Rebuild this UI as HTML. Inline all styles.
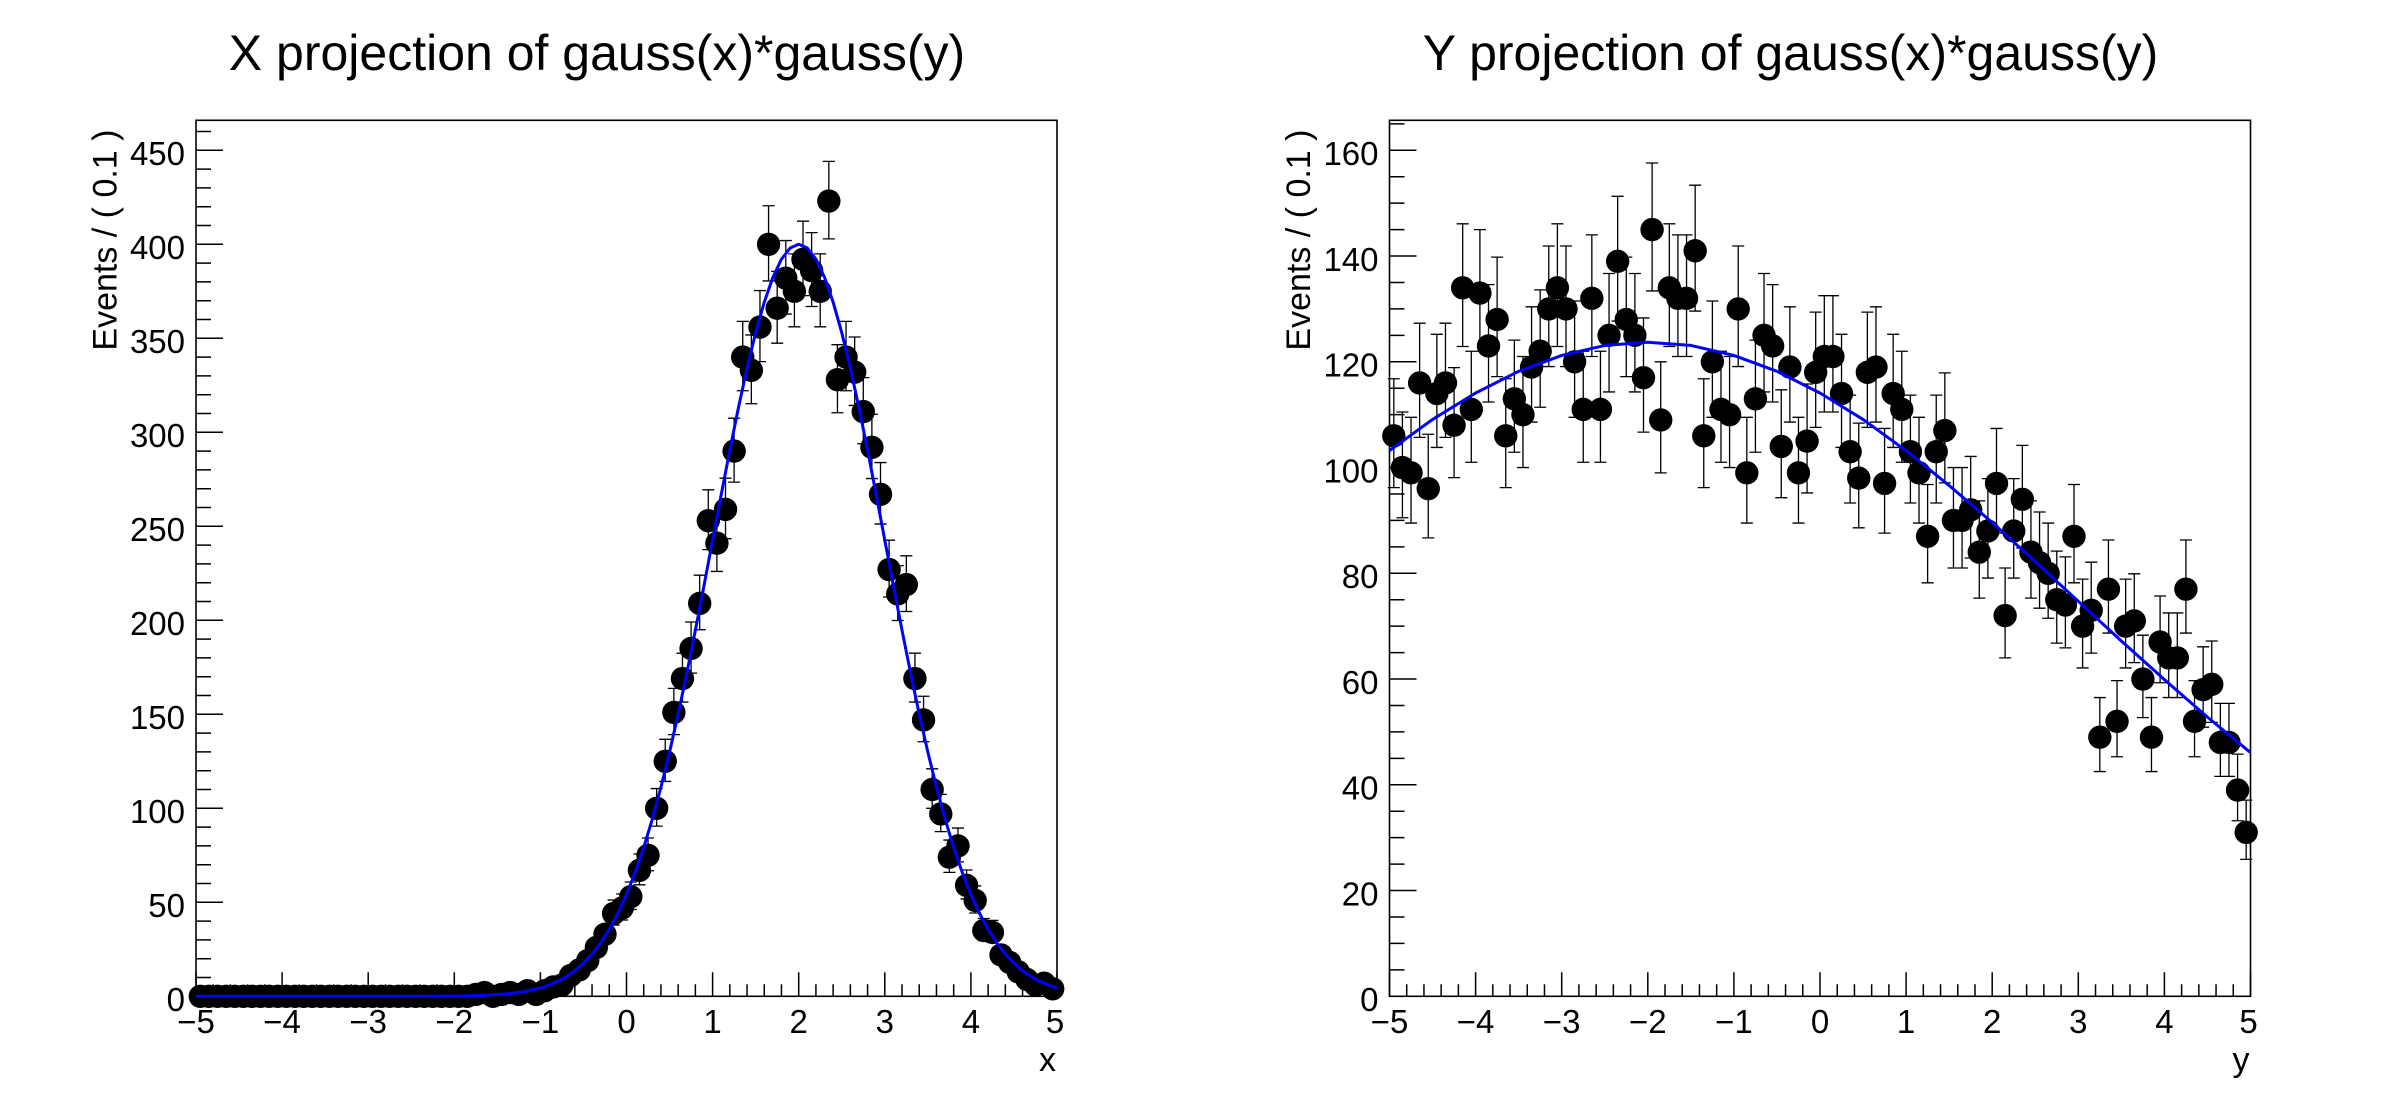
<!DOCTYPE html>
<html><head><meta charset="utf-8">
<style>
html,body{margin:0;padding:0;background:#fff;}
svg{display:block}
text{font-family:"Liberation Sans",Arial,sans-serif;fill:#000}
</style></head>
<body>
<svg width="2388" height="1116" viewBox="0 0 2388 1116" xmlns="http://www.w3.org/2000/svg">
<rect width="2388" height="1116" fill="#fff"/>
<defs>
<ellipse id="mL" cx="0" cy="0" rx="0.1359" ry="6.223"/>
<ellipse id="mR" cx="0" cy="0" rx="0.1359" ry="2.213"/>
</defs>

<text x="597" y="70" font-size="50" text-anchor="middle">X projection of gauss(x)*gauss(y)</text>
<text x="1790.5" y="70" font-size="50" text-anchor="middle">Y projection of gauss(x)*gauss(y)</text>

<rect x="196" y="120.3" width="861" height="876" fill="none" stroke="#000" stroke-width="1.6"/>
<rect x="1389.5" y="120.3" width="861" height="876" fill="none" stroke="#000" stroke-width="1.6"/>

<g transform="matrix(1,0,0,-1.88,196,996.3)" stroke="#000" fill="none">
<path vector-effect="non-scaling-stroke" stroke-width="1.5" d="M0,0h27M0,50h27M0,100h27M0,150h27M0,200h27M0,250h27M0,300h27M0,350h27M0,400h27M0,450h27M0,10h15M0,20h15M0,30h15M0,40h15M0,60h15M0,70h15M0,80h15M0,90h15M0,110h15M0,120h15M0,130h15M0,140h15M0,160h15M0,170h15M0,180h15M0,190h15M0,210h15M0,220h15M0,230h15M0,240h15M0,260h15M0,270h15M0,280h15M0,290h15M0,310h15M0,320h15M0,330h15M0,340h15M0,360h15M0,370h15M0,380h15M0,390h15M0,410h15M0,420h15M0,430h15M0,440h15M0,460h15"/>
</g>
<g transform="matrix(1,0,0,-5.2875,1389.5,996.3)" stroke="#000" fill="none">
<path vector-effect="non-scaling-stroke" stroke-width="1.5" d="M0,0h27M0,20h27M0,40h27M0,60h27M0,80h27M0,100h27M0,120h27M0,140h27M0,160h27M0,5h15M0,10h15M0,15h15M0,25h15M0,30h15M0,35h15M0,45h15M0,50h15M0,55h15M0,65h15M0,70h15M0,75h15M0,85h15M0,90h15M0,95h15M0,105h15M0,110h15M0,115h15M0,125h15M0,130h15M0,135h15M0,145h15M0,150h15M0,155h15M0,165h15"/>
</g>
<g transform="matrix(86.1,0,0,1,626.5,996.3)" stroke="#000" fill="none">
<path id="xt" vector-effect="non-scaling-stroke" stroke-width="1.5" d="M-5,0v-24M-4,0v-24M-3,0v-24M-2,0v-24M-1,0v-24M0,0v-24M1,0v-24M2,0v-24M3,0v-24M4,0v-24M5,0v-24M-4.8,0v-12M-4.6,0v-12M-4.4,0v-12M-4.2,0v-12M-3.8,0v-12M-3.6,0v-12M-3.4,0v-12M-3.2,0v-12M-2.8,0v-12M-2.6,0v-12M-2.4,0v-12M-2.2,0v-12M-1.8,0v-12M-1.6,0v-12M-1.4,0v-12M-1.2,0v-12M-0.8,0v-12M-0.6,0v-12M-0.4,0v-12M-0.2,0v-12M0.2,0v-12M0.4,0v-12M0.6,0v-12M0.8,0v-12M1.2,0v-12M1.4,0v-12M1.6,0v-12M1.8,0v-12M2.2,0v-12M2.4,0v-12M2.6,0v-12M2.8,0v-12M3.2,0v-12M3.4,0v-12M3.6,0v-12M3.8,0v-12M4.2,0v-12M4.4,0v-12M4.6,0v-12M4.8,0v-12"/>
</g>
<g transform="matrix(86.1,0,0,1,1820,996.3)" stroke="#000" fill="none">
<path vector-effect="non-scaling-stroke" stroke-width="1.5" d="M-5,0v-24M-4,0v-24M-3,0v-24M-2,0v-24M-1,0v-24M0,0v-24M1,0v-24M2,0v-24M3,0v-24M4,0v-24M5,0v-24M-4.8,0v-12M-4.6,0v-12M-4.4,0v-12M-4.2,0v-12M-3.8,0v-12M-3.6,0v-12M-3.4,0v-12M-3.2,0v-12M-2.8,0v-12M-2.6,0v-12M-2.4,0v-12M-2.2,0v-12M-1.8,0v-12M-1.6,0v-12M-1.4,0v-12M-1.2,0v-12M-0.8,0v-12M-0.6,0v-12M-0.4,0v-12M-0.2,0v-12M0.2,0v-12M0.4,0v-12M0.6,0v-12M0.8,0v-12M1.2,0v-12M1.4,0v-12M1.6,0v-12M1.8,0v-12M2.2,0v-12M2.4,0v-12M2.6,0v-12M2.8,0v-12M3.2,0v-12M3.4,0v-12M3.6,0v-12M3.8,0v-12M4.2,0v-12M4.4,0v-12M4.6,0v-12M4.8,0v-12"/>
</g>

<g font-size="33" text-anchor="end">
<text x="185" y="1011">0</text><text x="185" y="917">50</text><text x="185" y="823">100</text><text x="185" y="729">150</text><text x="185" y="635">200</text><text x="185" y="541">250</text><text x="185" y="447">300</text><text x="185" y="353">350</text><text x="185" y="259">400</text><text x="185" y="165">450</text>
<text x="1378.5" y="1011">0</text><text x="1378.5" y="905.3">20</text><text x="1378.5" y="799.5">40</text><text x="1378.5" y="693.8">60</text><text x="1378.5" y="588">80</text><text x="1378.5" y="482.3">100</text><text x="1378.5" y="376.5">120</text><text x="1378.5" y="270.8">140</text><text x="1378.5" y="165">160</text>
</g>
<g font-size="33" text-anchor="middle">
<text x="196" y="1033">−5</text><text x="282.1" y="1033">−4</text><text x="368.2" y="1033">−3</text><text x="454.3" y="1033">−2</text><text x="540.4" y="1033">−1</text><text x="626.5" y="1033">0</text><text x="712.6" y="1033">1</text><text x="798.7" y="1033">2</text><text x="884.8" y="1033">3</text><text x="970.9" y="1033">4</text><text x="1055" y="1033">5</text>
<text x="1389.5" y="1033">−5</text><text x="1475.6" y="1033">−4</text><text x="1561.7" y="1033">−3</text><text x="1647.8" y="1033">−2</text><text x="1733.9" y="1033">−1</text><text x="1820" y="1033">0</text><text x="1906.1" y="1033">1</text><text x="1992.2" y="1033">2</text><text x="2078.3" y="1033">3</text><text x="2164.4" y="1033">4</text><text x="2248.5" y="1033">5</text>
</g>

<text x="1056" y="1071" font-size="34" text-anchor="end">x</text>
<text x="2249.5" y="1071" font-size="34" text-anchor="end">y</text>
<text transform="translate(116.7,129.5) rotate(-90)" font-size="34" text-anchor="end">Events / ( 0.1 )</text>
<text transform="translate(1310.2,129.5) rotate(-90)" font-size="34" text-anchor="end">Events / ( 0.1 )</text>

<g transform="matrix(86.1,0,0,-1.88,626.5,996.3)">
<path fill="none" stroke="#000" stroke-width="1.3" vector-effect="non-scaling-stroke" d="M-0.15,37.9V51.2m-.07,0h.14M-0.15,37.9m-.07,0h.14M-0.05,40.6V54.4m-.07,0h.14M-0.05,40.6m-.07,0h.14M0.05,46.2V60.8m-.07,0h.14M0.05,46.2m-.07,0h.14M0.15,59.3V75.7m-.07,0h.14M0.15,59.3m-.07,0h.14M0.25,66.8V84.2m-.07,0h.14M0.25,66.8m-.07,0h.14M0.35,90.5V110.5m-.07,0h.14M0.35,90.5m-.07,0h.14M0.45,114.3V136.7m-.07,0h.14M0.45,114.3m-.07,0h.14M0.55,139.2V163.8m-.07,0h.14M0.55,139.2m-.07,0h.14M0.65,156.5V182.5m-.07,0h.14M0.65,156.5m-.07,0h.14M0.75,171.9V199.1m-.07,0h.14M0.75,171.9m-.07,0h.14M0.85,195V224m-.07,0h.14M0.85,195m-.07,0h.14M0.95,237.6V269.4m-.07,0h.14M0.95,237.6m-.07,0h.14M1.05,226V257m-.07,0h.14M1.05,226m-.07,0h.14M1.15,243.4V275.6m-.07,0h.14M1.15,243.4m-.07,0h.14M1.25,273.5V307.5m-.07,0h.14M1.25,273.5m-.07,0h.14M1.35,322.1V359m-.07,0h.14M1.35,322.1m-.07,0h.14M1.45,315.2V351.8m-.07,0h.14M1.45,315.2m-.07,0h.14M1.55,337.6V375.4m-.07,0h.14M1.55,337.6m-.07,0h.14M1.65,380.5V420.5m-.07,0h.14M1.65,380.5m-.07,0h.14M1.75,347.4V385.6m-.07,0h.14M1.75,347.4m-.07,0h.14M1.85,362.9V402m-.07,0h.14M1.85,362.9m-.07,0h.14M1.95,356.1V394.9m-.07,0h.14M1.95,356.1m-.07,0h.14M2.05,372.7V412.3m-.07,0h.14M2.05,372.7m-.07,0h.14M2.15,366.9V406.2m-.07,0h.14M2.15,366.9m-.07,0h.14M2.25,356.1V394.9m-.07,0h.14M2.25,356.1m-.07,0h.14M2.35,402.9V444.1m-.07,0h.14M2.35,402.9m-.07,0h.14M2.45,310.4V346.6m-.07,0h.14M2.45,310.4m-.07,0h.14M2.55,322.1V359m-.07,0h.14M2.55,322.1m-.07,0h.14M2.65,314.3V350.7m-.07,0h.14M2.65,314.3m-.07,0h.14M2.75,293.9V329.1m-.07,0h.14M2.75,293.9m-.07,0h.14M2.85,275.4V309.6m-.07,0h.14M2.85,275.4m-.07,0h.14M2.95,251.2V283.9m-.07,0h.14M2.95,251.2m-.07,0h.14M3.05,212.4V242.6m-.07,0h.14M3.05,212.4m-.07,0h.14M3.15,199.9V229.1m-.07,0h.14M3.15,199.9m-.07,0h.14M3.25,204.7V234.3m-.07,0h.14M3.25,204.7m-.07,0h.14M3.35,156.5V182.5m-.07,0h.14M3.35,156.5m-.07,0h.14M3.45,135.4V159.6m-.07,0h.14M3.45,135.4m-.07,0h.14M3.55,100V121m-.07,0h.14M3.55,100m-.07,0h.14M3.65,87.6V107.4m-.07,0h.14M3.65,87.6m-.07,0h.14M3.75,65.9V83.1m-.07,0h.14M3.75,65.9m-.07,0h.14M3.85,71.5V89.5m-.07,0h.14M3.85,71.5m-.07,0h.14M3.95,51.8V67.2m-.07,0h.14M3.95,51.8m-.07,0h.14M4.05,44.3V58.7m-.07,0h.14M4.05,44.3m-.07,0h.14M4.15,29.6V41.4m-.07,0h.14M4.15,29.6m-.07,0h.14M4.25,28.7V40.4m-.07,0h.14M4.25,28.7m-.07,0h.14"/>
<g fill="#000">
<use href="#mL" x="-4.95" y="0"/><use href="#mL" x="-4.85" y="0"/><use href="#mL" x="-4.75" y="0"/><use href="#mL" x="-4.65" y="0"/><use href="#mL" x="-4.55" y="0"/><use href="#mL" x="-4.45" y="0"/><use href="#mL" x="-4.35" y="0"/><use href="#mL" x="-4.25" y="0"/><use href="#mL" x="-4.15" y="0"/><use href="#mL" x="-4.05" y="0"/>
<use href="#mL" x="-3.95" y="0"/><use href="#mL" x="-3.85" y="0"/><use href="#mL" x="-3.75" y="0"/><use href="#mL" x="-3.65" y="0"/><use href="#mL" x="-3.55" y="0"/><use href="#mL" x="-3.45" y="0"/><use href="#mL" x="-3.35" y="0"/><use href="#mL" x="-3.25" y="0"/><use href="#mL" x="-3.15" y="0"/><use href="#mL" x="-3.05" y="0"/>
<use href="#mL" x="-2.95" y="0"/><use href="#mL" x="-2.85" y="0"/><use href="#mL" x="-2.75" y="0"/><use href="#mL" x="-2.65" y="0"/><use href="#mL" x="-2.55" y="0"/><use href="#mL" x="-2.45" y="0"/><use href="#mL" x="-2.35" y="0"/><use href="#mL" x="-2.25" y="0"/><use href="#mL" x="-2.15" y="0"/><use href="#mL" x="-2.05" y="0"/>
<use href="#mL" x="-1.95" y="0"/><use href="#mL" x="-1.85" y="0"/><use href="#mL" x="-1.75" y="1"/><use href="#mL" x="-1.65" y="2"/><use href="#mL" x="-1.55" y="0"/><use href="#mL" x="-1.45" y="1"/><use href="#mL" x="-1.35" y="2"/><use href="#mL" x="-1.25" y="1"/><use href="#mL" x="-1.15" y="3"/><use href="#mL" x="-1.05" y="1"/>
<use href="#mL" x="-0.95" y="3"/><use href="#mL" x="-0.85" y="5"/><use href="#mL" x="-0.75" y="6"/><use href="#mL" x="-0.65" y="11"/><use href="#mL" x="-0.55" y="14"/><use href="#mL" x="-0.45" y="19"/><use href="#mL" x="-0.35" y="26"/><use href="#mL" x="-0.25" y="33"/><use href="#mL" x="-0.15" y="44"/><use href="#mL" x="-0.05" y="47"/>
<use href="#mL" x="0.05" y="53"/><use href="#mL" x="0.15" y="67"/><use href="#mL" x="0.25" y="75"/><use href="#mL" x="0.35" y="100"/><use href="#mL" x="0.45" y="125"/><use href="#mL" x="0.55" y="151"/><use href="#mL" x="0.65" y="169"/><use href="#mL" x="0.75" y="185"/><use href="#mL" x="0.85" y="209"/><use href="#mL" x="0.95" y="253"/>
<use href="#mL" x="1.05" y="241"/><use href="#mL" x="1.15" y="259"/><use href="#mL" x="1.25" y="290"/><use href="#mL" x="1.35" y="340"/><use href="#mL" x="1.45" y="333"/><use href="#mL" x="1.55" y="356"/><use href="#mL" x="1.65" y="400"/><use href="#mL" x="1.75" y="366"/><use href="#mL" x="1.85" y="382"/><use href="#mL" x="1.95" y="375"/>
<use href="#mL" x="2.05" y="392"/><use href="#mL" x="2.15" y="386"/><use href="#mL" x="2.25" y="375"/><use href="#mL" x="2.35" y="423"/><use href="#mL" x="2.45" y="328"/><use href="#mL" x="2.55" y="340"/><use href="#mL" x="2.65" y="332"/><use href="#mL" x="2.75" y="311"/><use href="#mL" x="2.85" y="292"/><use href="#mL" x="2.95" y="267"/>
<use href="#mL" x="3.05" y="227"/><use href="#mL" x="3.15" y="214"/><use href="#mL" x="3.25" y="219"/><use href="#mL" x="3.35" y="169"/><use href="#mL" x="3.45" y="147"/><use href="#mL" x="3.55" y="110"/><use href="#mL" x="3.65" y="97"/><use href="#mL" x="3.75" y="74"/><use href="#mL" x="3.85" y="80"/><use href="#mL" x="3.95" y="59"/>
<use href="#mL" x="4.05" y="51"/><use href="#mL" x="4.15" y="35"/><use href="#mL" x="4.25" y="34"/><use href="#mL" x="4.35" y="22"/><use href="#mL" x="4.45" y="18"/><use href="#mL" x="4.55" y="13"/><use href="#mL" x="4.65" y="9"/><use href="#mL" x="4.75" y="6"/><use href="#mL" x="4.85" y="7"/><use href="#mL" x="4.95" y="4"/>
</g>
<polyline fill="none" stroke="#0000ff" stroke-width="3" vector-effect="non-scaling-stroke" stroke-linejoin="round" points="-5,0 -2.5,0.02 -2,0.13 -1.8,0.3 -1.6,0.6 -1.4,1.2 -1.2,2.4 -1,4.4 -0.9,6 -0.8,7.9 -0.7,10.4 -0.6,13.6 -0.5,17.6 -0.4,22.5 -0.3,28.4 -0.2,35.6 -0.1,44.1 0,54.1 0.1,65.8 0.2,79.2 0.3,94.3 0.4,111.2 0.5,129.9 0.6,150.1 0.7,171.8 0.8,194.7 0.9,218.4 1,242.6 1.1,266.8 1.2,290.5 1.3,313.1 1.4,334.1 1.5,353 1.6,369.2 1.7,382.4 1.8,392.1 1.9,398 2,400 2.1,398 2.2,392.1 2.3,382.4 2.4,369.2 2.5,353 2.6,334.1 2.7,313.1 2.8,290.5 2.9,266.8 3,242.6 3.1,218.4 3.2,194.7 3.3,171.8 3.4,150.1 3.5,129.9 3.6,111.2 3.7,94.3 3.8,79.2 3.9,65.8 4,54.1 4.1,44.1 4.2,35.6 4.3,28.4 4.4,22.5 4.5,17.6 4.6,13.6 4.7,10.4 4.8,7.9 4.9,6 5,4.4"/>
</g>

<g transform="matrix(86.1,0,0,-5.2875,1820,996.3)">
<path fill="none" stroke="#000" stroke-width="1.3" vector-effect="non-scaling-stroke" d="M-4.95,96.2V116.8m-.07,0h.14M-4.95,96.2m-.07,0h.14M-4.85,90.5V110.5m-.07,0h.14M-4.85,90.5m-.07,0h.14M-4.75,89.5V109.5m-.07,0h.14M-4.75,89.5m-.07,0h.14M-4.65,105.7V127.3m-.07,0h.14M-4.65,105.7m-.07,0h.14M-4.55,86.7V106.3m-.07,0h.14M-4.55,86.7m-.07,0h.14M-4.45,103.8V125.2m-.07,0h.14M-4.45,103.8m-.07,0h.14M-4.35,105.7V127.3m-.07,0h.14M-4.35,105.7m-.07,0h.14M-4.25,98.1V118.9m-.07,0h.14M-4.25,98.1m-.07,0h.14M-4.15,122.9V146.1m-.07,0h.14M-4.15,122.9m-.07,0h.14M-4.05,101V122m-.07,0h.14M-4.05,101m-.07,0h.14M-3.95,122V145m-.07,0h.14M-3.95,122m-.07,0h.14M-3.85,112.4V134.6m-.07,0h.14M-3.85,112.4m-.07,0h.14M-3.75,117.2V139.8m-.07,0h.14M-3.75,117.2m-.07,0h.14M-3.65,96.2V116.8m-.07,0h.14M-3.65,96.2m-.07,0h.14M-3.55,102.9V124.1m-.07,0h.14M-3.55,102.9m-.07,0h.14M-3.45,100V121m-.07,0h.14M-3.45,100m-.07,0h.14M-3.35,108.6V130.4m-.07,0h.14M-3.35,108.6m-.07,0h.14M-3.25,111.4V133.6m-.07,0h.14M-3.25,111.4m-.07,0h.14M-3.15,119.1V141.9m-.07,0h.14M-3.15,119.1m-.07,0h.14M-3.05,122.9V146.1m-.07,0h.14M-3.05,122.9m-.07,0h.14M-2.95,119.1V141.9m-.07,0h.14M-2.95,119.1m-.07,0h.14M-2.85,109.5V131.5m-.07,0h.14M-2.85,109.5m-.07,0h.14M-2.75,101V122m-.07,0h.14M-2.75,101m-.07,0h.14M-2.65,121V144m-.07,0h.14M-2.65,121m-.07,0h.14M-2.55,101V122m-.07,0h.14M-2.55,101m-.07,0h.14M-2.45,114.3V136.7m-.07,0h.14M-2.45,114.3m-.07,0h.14M-2.35,127.7V151.3m-.07,0h.14M-2.35,127.7m-.07,0h.14M-2.25,117.2V139.8m-.07,0h.14M-2.25,117.2m-.07,0h.14M-2.15,114.3V136.7m-.07,0h.14M-2.15,114.3m-.07,0h.14M-2.05,106.7V128.3m-.07,0h.14M-2.05,106.7m-.07,0h.14M-1.95,133.4V157.6m-.07,0h.14M-1.95,133.4m-.07,0h.14M-1.85,99V120m-.07,0h.14M-1.85,99m-.07,0h.14M-1.75,122.9V146.1m-.07,0h.14M-1.75,122.9m-.07,0h.14M-1.65,121V144m-.07,0h.14M-1.65,121m-.07,0h.14M-1.55,121V144m-.07,0h.14M-1.55,121m-.07,0h.14M-1.45,129.6V153.4m-.07,0h.14M-1.45,129.6m-.07,0h.14M-1.35,96.2V116.8m-.07,0h.14M-1.35,96.2m-.07,0h.14M-1.25,109.5V131.5m-.07,0h.14M-1.25,109.5m-.07,0h.14M-1.15,101V122m-.07,0h.14M-1.15,101m-.07,0h.14M-1.05,100V121m-.07,0h.14M-1.05,100m-.07,0h.14M-0.95,119.1V141.9m-.07,0h.14M-0.95,119.1m-.07,0h.14M-0.85,89.5V109.5m-.07,0h.14M-0.85,89.5m-.07,0h.14M-0.75,102.9V124.1m-.07,0h.14M-0.75,102.9m-.07,0h.14M-0.65,114.3V136.7m-.07,0h.14M-0.65,114.3m-.07,0h.14M-0.55,112.4V134.6m-.07,0h.14M-0.55,112.4m-.07,0h.14M-0.45,94.3V114.7m-.07,0h.14M-0.45,94.3m-.07,0h.14M-0.35,108.6V130.4m-.07,0h.14M-0.35,108.6m-.07,0h.14M-0.25,89.5V109.5m-.07,0h.14M-0.25,89.5m-.07,0h.14M-0.15,95.2V115.8m-.07,0h.14M-0.15,95.2m-.07,0h.14M-0.05,107.6V129.4m-.07,0h.14M-0.05,107.6m-.07,0h.14M0.05,110.5V132.5m-.07,0h.14M0.05,110.5m-.07,0h.14M0.15,110.5V132.5m-.07,0h.14M0.15,110.5m-.07,0h.14M0.25,103.8V125.2m-.07,0h.14M0.25,103.8m-.07,0h.14M0.35,93.3V113.7m-.07,0h.14M0.35,93.3m-.07,0h.14M0.45,88.6V108.4m-.07,0h.14M0.45,88.6m-.07,0h.14M0.55,107.6V129.4m-.07,0h.14M0.55,107.6m-.07,0h.14M0.65,108.6V130.4m-.07,0h.14M0.65,108.6m-.07,0h.14M0.75,87.6V107.4m-.07,0h.14M0.75,87.6m-.07,0h.14M0.85,103.8V125.2m-.07,0h.14M0.85,103.8m-.07,0h.14M0.95,101V122m-.07,0h.14M0.95,101m-.07,0h.14M1.05,93.3V113.7m-.07,0h.14M1.05,93.3m-.07,0h.14M1.15,89.5V109.5m-.07,0h.14M1.15,89.5m-.07,0h.14M1.25,78.2V96.8m-.07,0h.14M1.25,78.2m-.07,0h.14M1.35,93.3V113.7m-.07,0h.14M1.35,93.3m-.07,0h.14M1.45,97.1V117.9m-.07,0h.14M1.45,97.1m-.07,0h.14M1.55,81V100m-.07,0h.14M1.55,81m-.07,0h.14M1.65,81V100m-.07,0h.14M1.65,81m-.07,0h.14M1.75,82.9V102.1m-.07,0h.14M1.75,82.9m-.07,0h.14M1.85,75.3V93.7m-.07,0h.14M1.85,75.3m-.07,0h.14M1.95,79.1V97.9m-.07,0h.14M1.95,79.1m-.07,0h.14M2.05,87.6V107.4m-.07,0h.14M2.05,87.6m-.07,0h.14M2.15,64V81m-.07,0h.14M2.15,64m-.07,0h.14M2.25,79.1V97.9m-.07,0h.14M2.25,79.1m-.07,0h.14M2.35,84.8V104.2m-.07,0h.14M2.35,84.8m-.07,0h.14M2.45,75.3V93.7m-.07,0h.14M2.45,75.3m-.07,0h.14M2.55,73.4V91.6m-.07,0h.14M2.55,73.4m-.07,0h.14M2.65,71.5V89.5m-.07,0h.14M2.65,71.5m-.07,0h.14M2.75,66.8V84.2m-.07,0h.14M2.75,66.8m-.07,0h.14M2.85,65.9V83.1m-.07,0h.14M2.85,65.9m-.07,0h.14M2.95,78.2V96.8m-.07,0h.14M2.95,78.2m-.07,0h.14M3.05,62.1V78.9m-.07,0h.14M3.05,62.1m-.07,0h.14M3.15,64.9V82.1m-.07,0h.14M3.15,64.9m-.07,0h.14M3.25,42.5V56.5m-.07,0h.14M3.25,42.5m-.07,0h.14M3.35,68.7V86.3m-.07,0h.14M3.35,68.7m-.07,0h.14M3.45,45.3V59.7m-.07,0h.14M3.45,45.3m-.07,0h.14M3.55,62.1V78.9m-.07,0h.14M3.55,62.1m-.07,0h.14M3.65,63.1V79.9m-.07,0h.14M3.65,63.1m-.07,0h.14M3.75,52.7V68.3m-.07,0h.14M3.75,52.7m-.07,0h.14M3.85,42.5V56.5m-.07,0h.14M3.85,42.5m-.07,0h.14M3.95,59.3V75.7m-.07,0h.14M3.95,59.3m-.07,0h.14M4.05,56.5V72.5m-.07,0h.14M4.05,56.5m-.07,0h.14M4.15,56.5V72.5m-.07,0h.14M4.15,56.5m-.07,0h.14M4.25,68.7V86.3m-.07,0h.14M4.25,68.7m-.07,0h.14M4.35,45.3V59.7m-.07,0h.14M4.35,45.3m-.07,0h.14M4.45,50.9V66.1m-.07,0h.14M4.45,50.9m-.07,0h.14M4.55,51.8V67.2m-.07,0h.14M4.55,51.8m-.07,0h.14M4.65,41.6V55.4m-.07,0h.14M4.65,41.6m-.07,0h.14M4.75,41.6V55.4m-.07,0h.14M4.75,41.6m-.07,0h.14M4.85,33.2V45.8m-.07,0h.14M4.85,33.2m-.07,0h.14M4.95,25.9V37.1m-.07,0h.14M4.95,25.9m-.07,0h.14"/>
<g fill="#000">
<use href="#mR" x="-4.95" y="106"/><use href="#mR" x="-4.85" y="100"/><use href="#mR" x="-4.75" y="99"/><use href="#mR" x="-4.65" y="116"/><use href="#mR" x="-4.55" y="96"/><use href="#mR" x="-4.45" y="114"/><use href="#mR" x="-4.35" y="116"/><use href="#mR" x="-4.25" y="108"/><use href="#mR" x="-4.15" y="134"/><use href="#mR" x="-4.05" y="111"/>
<use href="#mR" x="-3.95" y="133"/><use href="#mR" x="-3.85" y="123"/><use href="#mR" x="-3.75" y="128"/><use href="#mR" x="-3.65" y="106"/><use href="#mR" x="-3.55" y="113"/><use href="#mR" x="-3.45" y="110"/><use href="#mR" x="-3.35" y="119"/><use href="#mR" x="-3.25" y="122"/><use href="#mR" x="-3.15" y="130"/><use href="#mR" x="-3.05" y="134"/>
<use href="#mR" x="-2.95" y="130"/><use href="#mR" x="-2.85" y="120"/><use href="#mR" x="-2.75" y="111"/><use href="#mR" x="-2.65" y="132"/><use href="#mR" x="-2.55" y="111"/><use href="#mR" x="-2.45" y="125"/><use href="#mR" x="-2.35" y="139"/><use href="#mR" x="-2.25" y="128"/><use href="#mR" x="-2.15" y="125"/><use href="#mR" x="-2.05" y="117"/>
<use href="#mR" x="-1.95" y="145"/><use href="#mR" x="-1.85" y="109"/><use href="#mR" x="-1.75" y="134"/><use href="#mR" x="-1.65" y="132"/><use href="#mR" x="-1.55" y="132"/><use href="#mR" x="-1.45" y="141"/><use href="#mR" x="-1.35" y="106"/><use href="#mR" x="-1.25" y="120"/><use href="#mR" x="-1.15" y="111"/><use href="#mR" x="-1.05" y="110"/>
<use href="#mR" x="-0.95" y="130"/><use href="#mR" x="-0.85" y="99"/><use href="#mR" x="-0.75" y="113"/><use href="#mR" x="-0.65" y="125"/><use href="#mR" x="-0.55" y="123"/><use href="#mR" x="-0.45" y="104"/><use href="#mR" x="-0.35" y="119"/><use href="#mR" x="-0.25" y="99"/><use href="#mR" x="-0.15" y="105"/><use href="#mR" x="-0.05" y="118"/>
<use href="#mR" x="0.05" y="121"/><use href="#mR" x="0.15" y="121"/><use href="#mR" x="0.25" y="114"/><use href="#mR" x="0.35" y="103"/><use href="#mR" x="0.45" y="98"/><use href="#mR" x="0.55" y="118"/><use href="#mR" x="0.65" y="119"/><use href="#mR" x="0.75" y="97"/><use href="#mR" x="0.85" y="114"/><use href="#mR" x="0.95" y="111"/>
<use href="#mR" x="1.05" y="103"/><use href="#mR" x="1.15" y="99"/><use href="#mR" x="1.25" y="87"/><use href="#mR" x="1.35" y="103"/><use href="#mR" x="1.45" y="107"/><use href="#mR" x="1.55" y="90"/><use href="#mR" x="1.65" y="90"/><use href="#mR" x="1.75" y="92"/><use href="#mR" x="1.85" y="84"/><use href="#mR" x="1.95" y="88"/>
<use href="#mR" x="2.05" y="97"/><use href="#mR" x="2.15" y="72"/><use href="#mR" x="2.25" y="88"/><use href="#mR" x="2.35" y="94"/><use href="#mR" x="2.45" y="84"/><use href="#mR" x="2.55" y="82"/><use href="#mR" x="2.65" y="80"/><use href="#mR" x="2.75" y="75"/><use href="#mR" x="2.85" y="74"/><use href="#mR" x="2.95" y="87"/>
<use href="#mR" x="3.05" y="70"/><use href="#mR" x="3.15" y="73"/><use href="#mR" x="3.25" y="49"/><use href="#mR" x="3.35" y="77"/><use href="#mR" x="3.45" y="52"/><use href="#mR" x="3.55" y="70"/><use href="#mR" x="3.65" y="71"/><use href="#mR" x="3.75" y="60"/><use href="#mR" x="3.85" y="49"/><use href="#mR" x="3.95" y="67"/>
<use href="#mR" x="4.05" y="64"/><use href="#mR" x="4.15" y="64"/><use href="#mR" x="4.25" y="77"/><use href="#mR" x="4.35" y="52"/><use href="#mR" x="4.45" y="58"/><use href="#mR" x="4.55" y="59"/><use href="#mR" x="4.65" y="48"/><use href="#mR" x="4.75" y="48"/><use href="#mR" x="4.85" y="39"/><use href="#mR" x="4.95" y="31"/>
</g>
<polyline fill="none" stroke="#0000ff" stroke-width="3" vector-effect="non-scaling-stroke" stroke-linejoin="round" points="-5,103.2 -4.5,109.1 -4,114.1 -3.5,118.2 -3,121.2 -2.5,123.1 -2,123.7 -1.5,123.1 -1,121.2 -0.5,118.2 0,114.1 0.5,109.1 1,103.2 1.5,96.6 2,89.6 2.5,82.2 3,74.7 3.5,67.2 4,59.9 4.5,52.8 5,46.1"/>
</g>
</svg>
</body></html>
